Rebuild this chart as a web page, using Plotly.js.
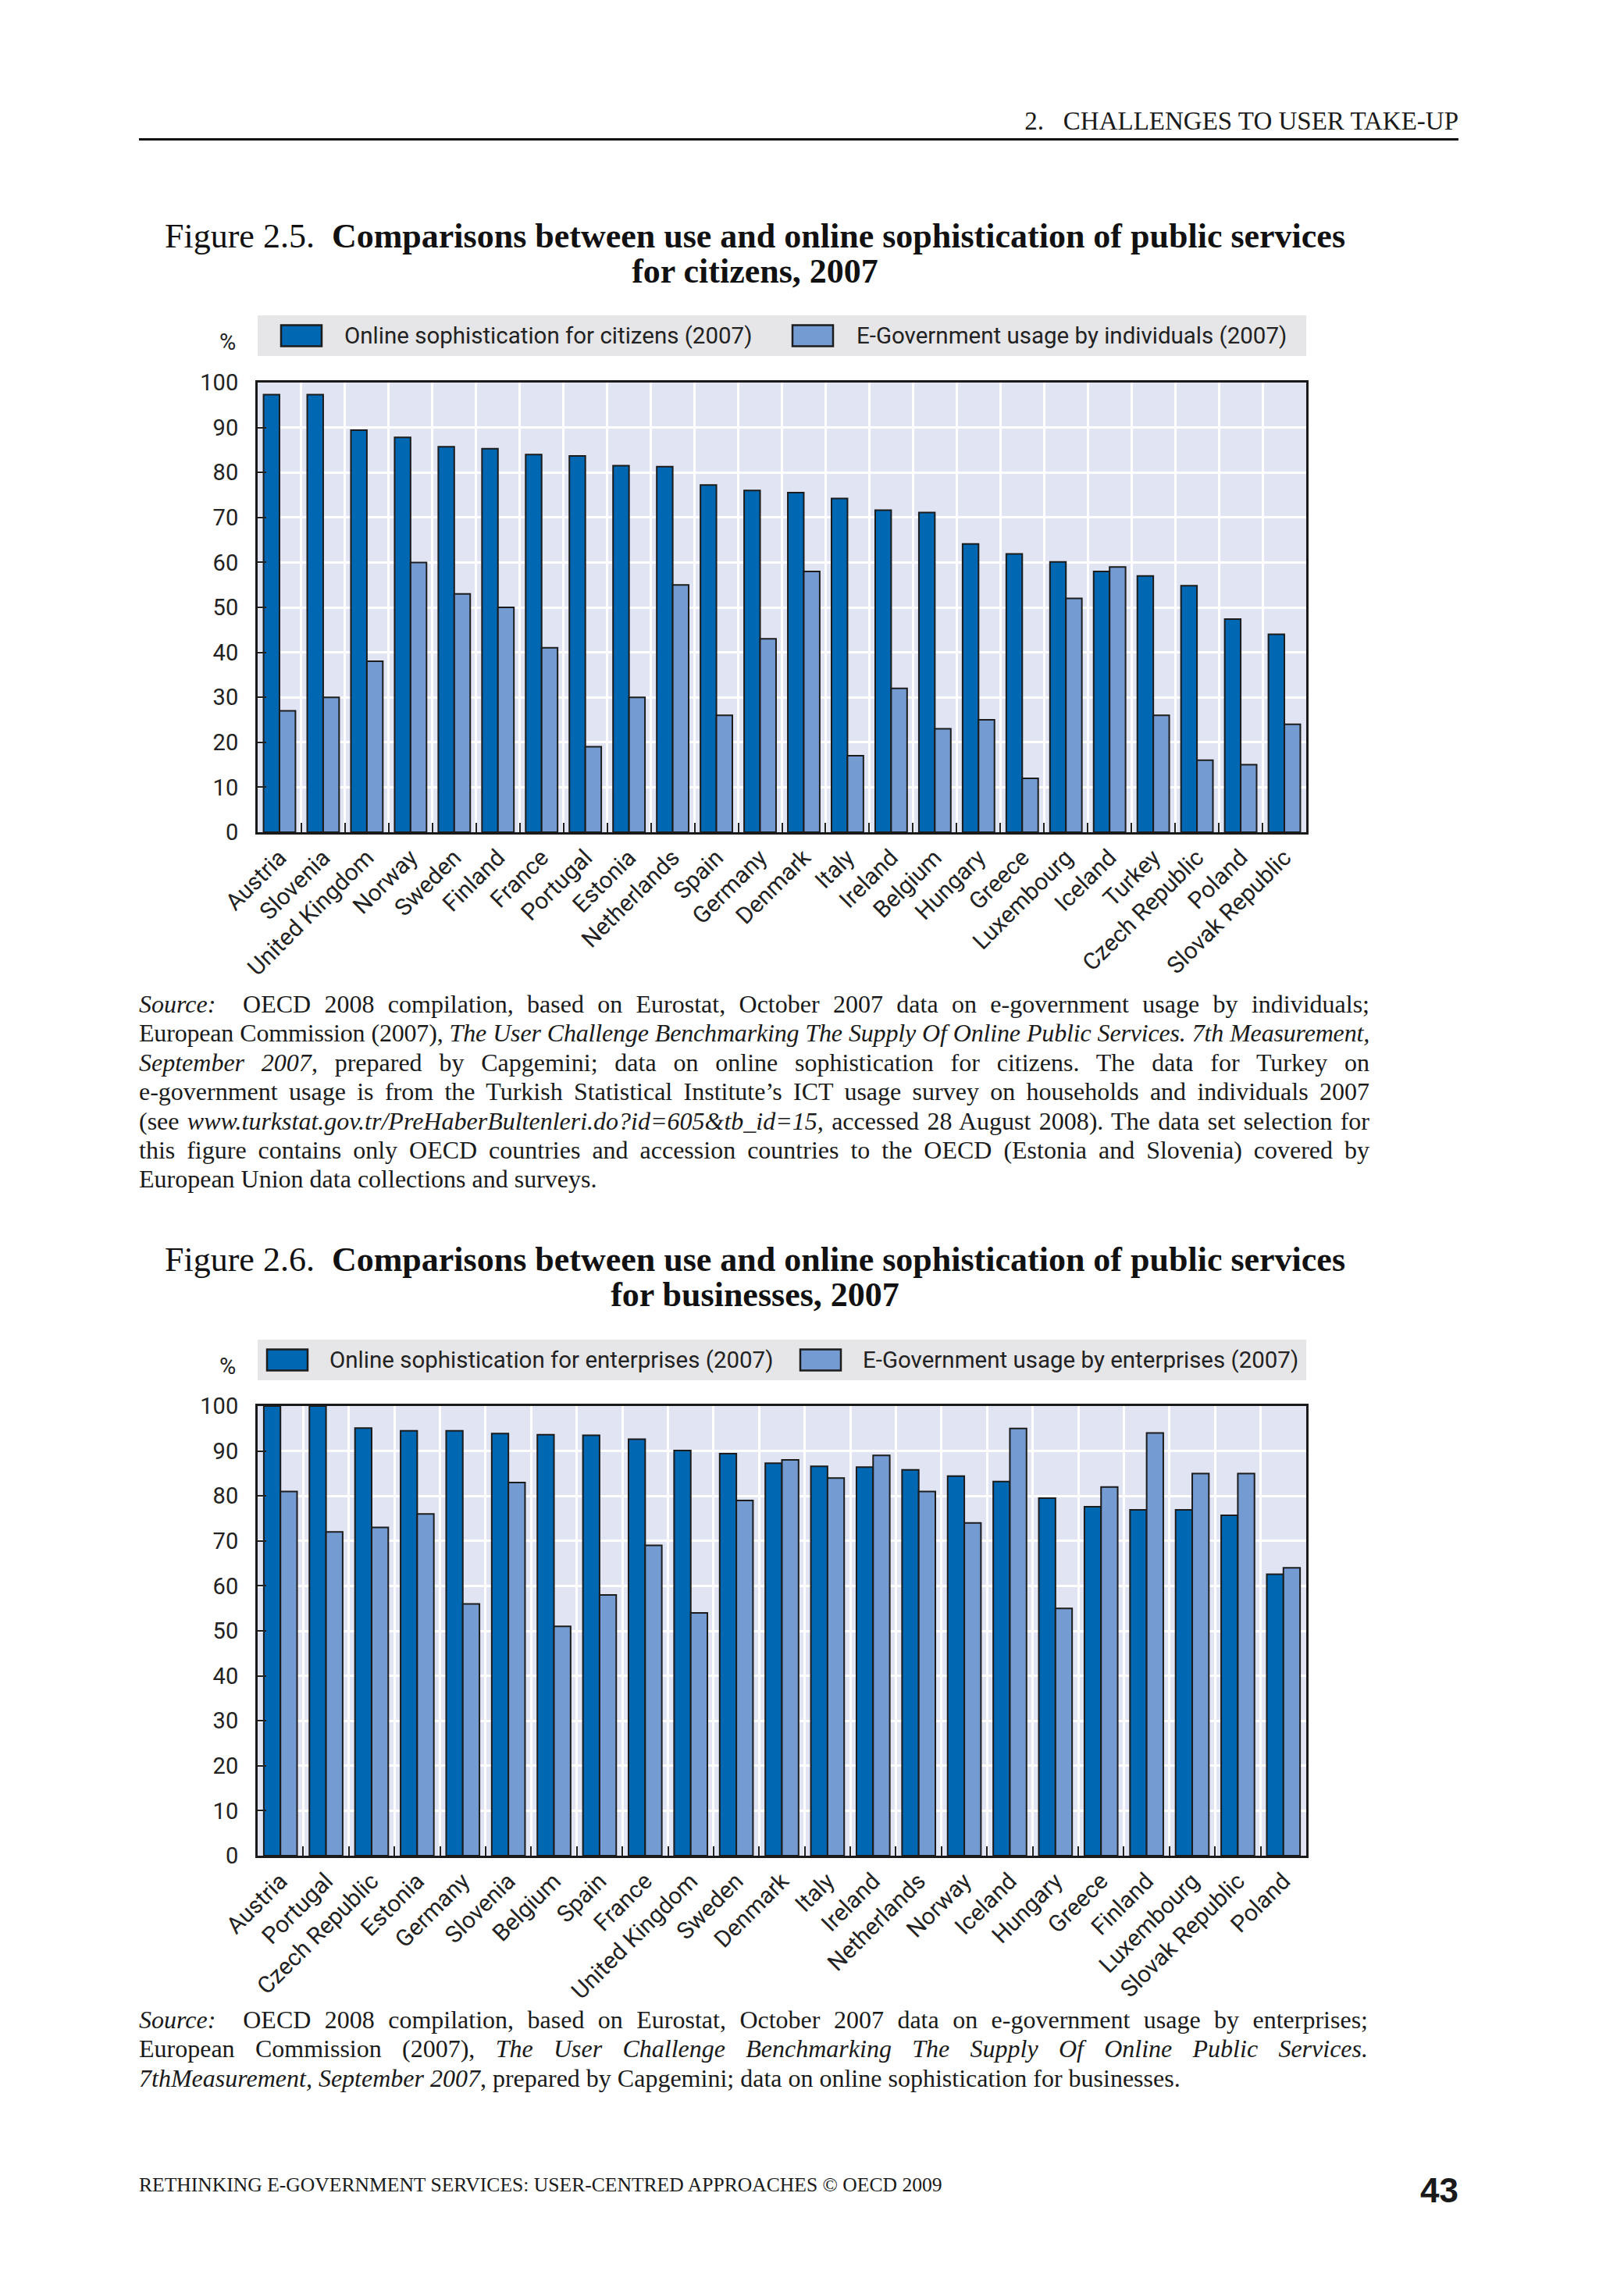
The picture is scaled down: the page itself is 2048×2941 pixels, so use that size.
<!DOCTYPE html>
<html>
<head>
<meta charset="utf-8">
<script src="https://cdn.plot.ly/plotly-3.0.1.min.js"></script>
<style>
  html, body { margin:0; padding:0; background:#fff; }
  #page { position:relative; width:2048px; height:2941px; overflow:hidden; }
  #chart { position:absolute; left:0; top:0; width:2048px; height:2941px; }
  .txt { position:absolute; color:#1a1a1a; font-family:"Liberation Serif","DejaVu Serif",serif; white-space:nowrap; pointer-events:none; z-index:5; }
  .src { position:absolute; left:178px; width:1576px; font-family:"Liberation Serif","DejaVu Serif",serif; font-size:32px; line-height:37.4px; color:#1a1a1a; z-index:5; }
  .src div { text-align:justify; text-align-last:justify; white-space:normal; }
  .src div.last { text-align:left; text-align-last:left; }
  .title { position:absolute; left:178px; width:1578px; text-align:center; font-family:"Liberation Serif","DejaVu Serif",serif; font-size:44px; line-height:45px; color:#111; z-index:5; white-space:nowrap; }
  .title b { font-weight:bold; }
</style>
</head>
<body>
<div id="page">
  <div id="chart"></div>

  <div class="txt" style="right:180px; top:137px; font-size:33px; line-height:37px;">2.&nbsp;&nbsp;&nbsp;CHALLENGES TO USER TAKE-UP</div>
  <div style="position:absolute; left:178px; top:177px; width:1690px; height:3px; background:#111; z-index:5;"></div>

  <div class="title" style="top:280px;">Figure 2.5.&nbsp;&nbsp;<b>Comparisons between use and online sophistication of public services</b><br><b>for citizens, 2007</b></div>

  <div class="src" style="top:1268px;">
    <div><i>Source:</i>&nbsp; OECD 2008 compilation, based on Eurostat, October 2007 data on e-government usage by individuals;</div>
    <div>European Commission (2007), <i>The User Challenge Benchmarking The Supply Of Online Public Services. 7th Measurement,</i></div>
    <div><i>September 2007</i>, prepared by Capgemini; data on online sophistication for citizens. The data for Turkey on</div>
    <div>e-government usage is from the Turkish Statistical Institute’s ICT usage survey on households and individuals 2007</div>
    <div>(see <i>www.turkstat.gov.tr/PreHaberBultenleri.do?id=605&amp;tb_id=15,</i> accessed 28 August 2008). The data set selection for</div>
    <div>this figure contains only OECD countries and accession countries to the OECD (Estonia and Slovenia) covered by</div>
    <div class="last">European Union data collections and surveys.</div>
  </div>

  <div class="title" style="top:1591px;">Figure 2.6.&nbsp;&nbsp;<b>Comparisons between use and online sophistication of public services</b><br><b>for businesses, 2007</b></div>

  <div class="src" style="top:2569px; width:1574px;">
    <div><i>Source:</i>&nbsp; OECD 2008 compilation, based on Eurostat, October 2007 data on e-government usage by enterprises;</div>
    <div>European Commission (2007), <i>The User Challenge Benchmarking The Supply Of Online Public Services.</i></div>
    <div class="last"><i>7thMeasurement, September 2007</i>, prepared by Capgemini; data on online sophistication for businesses.</div>
  </div>

  <div class="txt" style="left:178px; top:2784px; font-size:25.6px; line-height:30px;">RETHINKING E-GOVERNMENT SERVICES: USER-CENTRED APPROACHES © OECD 2009</div>
  <div class="txt" style="right:180px; top:2782px; font-size:44px; line-height:48px; font-weight:bold; font-family:'Liberation Sans','DejaVu Sans',sans-serif;">43</div>
</div>

<script>
// ---------- DATA ----------
const categories1 = ["Austria","Slovenia","United Kingdom","Norway","Sweden","Finland","France","Portugal","Estonia","Netherlands","Spain","Germany","Denmark","Italy","Ireland","Belgium","Hungary","Greece","Luxembourg","Iceland","Turkey","Czech Republic","Poland","Slovak Republic"];
const onlineCitizens = [97.3,97.3,89.4,87.8,85.7,85.3,84.0,83.7,81.5,81.3,77.2,76.0,75.5,74.2,71.6,71.1,64.1,61.9,60.1,58.0,57.0,54.8,47.4,44.0];
const usageIndividuals = [27,30,38,60,53,50,41,19,30,55,26,43,58,17,32,23,25,12,52,59,26,16,15,24];

const categories2 = ["Austria","Portugal","Czech Republic","Estonia","Germany","Slovenia","Belgium","Spain","France","United Kingdom","Sweden","Denmark","Italy","Ireland","Netherlands","Norway","Iceland","Hungary","Greece","Finland","Luxembourg","Slovak Republic","Poland"];
const onlineEnterprises = [100,100,95.1,94.5,94.5,93.9,93.6,93.5,92.6,90.1,89.4,87.3,86.6,86.4,85.8,84.4,83.2,79.5,77.6,76.9,76.9,75.7,62.6];
const usageEnterprises = [81,72,73,76,56,83,51,58,69,54,79,88,84,89,81,74,95,55,82,94,85,85,64];

const legend1 = ["Online sophistication for citizens (2007)","E-Government usage by individuals (2007)"];
const legend2 = ["Online sophistication for enterprises (2007)","E-Government usage by enterprises (2007)"];
const yTicks = [0,10,20,30,40,50,60,70,80,90,100];

// ---------- fit justified source lines (no unwanted wrapping) ----------
document.querySelectorAll(".src div").forEach(d => {
  const box = d.parentElement.clientWidth;
  d.style.whiteSpace = "nowrap";
  d.style.display = "inline-block";
  const w = d.getBoundingClientRect().width;
  const n = d.textContent.length;
  if (w > box - 2) d.style.letterSpacing = ((box - 4 - w) / n).toFixed(3) + "px";
  d.style.display = "block";
  d.style.whiteSpace = "normal";
});

// ---------- STYLE ----------
const W = 2048, H = 2941;
const px = x => x / W;
const py = y => 1 - y / H;
const DARK = "#0067b3", LIGHT = "#759bd3", OUTLINE = "#1c1c1c";
const SANS = "Roboto, 'Liberation Sans', sans-serif";
const TXT = "#222";

function bar(x, y, color, xa, ya) {
  return { type:"bar", x:x, y:y, xaxis:xa, yaxis:ya, marker:{color:color, line:{color:OUTLINE, width:2}}, hoverinfo:"x+y" };
}

const data = [
  bar(categories1, onlineCitizens, DARK, "x", "y"),
  bar(categories1, usageIndividuals, LIGHT, "x", "y"),
  bar(categories2, onlineEnterprises, DARK, "x2", "y2"),
  bar(categories2, usageEnterprises, LIGHT, "x2", "y2")
];

function xAxis(domainPx, anchor) {
  return {
    domain:[px(domainPx[0]), px(domainPx[1])], anchor:anchor, type:"category",
    tickson:"boundaries", ticks:"inside", ticklen:12, tickwidth:2, tickcolor:"#222",
    showgrid:true, gridcolor:"#ffffff", gridwidth:3,
    showline:true, mirror:true, linecolor:"#1a1a1a", linewidth:3,
    tickangle:-45, tickfont:{family:SANS, size:30, color:TXT}, fixedrange:true
  };
}
function yAxis(topPx, botPx, anchor) {
  return {
    domain:[py(botPx), py(topPx)], anchor:anchor, range:[0,100],
    tickvals:yTicks, ticktext:yTicks.map(String),
    ticks:"inside", ticklen:11, tickwidth:2, tickcolor:"#222",
    showgrid:true, gridcolor:"#ffffff", gridwidth:3, zeroline:false,
    showline:true, mirror:true, linecolor:"#1a1a1a", linewidth:3,
    tickfont:{family:SANS, size:29, color:TXT}, ticklabelstandoff:16, fixedrange:true
  };
}

const L = 330, R = 1673;
const shapes = [], annotations = [];
function legendBlock(top, bottom, labels, sym1, sym2, text1, text2) {
  shapes.push({type:"rect", xref:"paper", yref:"paper", x0:px(L), x1:px(R), y0:py(bottom), y1:py(top), fillcolor:"#e6e6e8", line:{width:0}, layer:"below"});
  const mid = (top + bottom) / 2;
  [[sym1, DARK, text1, labels[0]], [sym2, LIGHT, text2, labels[1]]].forEach(([sx, col, tx, lab]) => {
    shapes.push({type:"rect", xref:"paper", yref:"paper", x0:px(sx), x1:px(sx + 52), y0:py(mid + 13.5), y1:py(mid - 13.5), fillcolor:col, line:{color:OUTLINE, width:2.5}});
    annotations.push({xref:"paper", yref:"paper", x:px(tx), y:py(mid), xanchor:"left", yanchor:"middle", text:lab, showarrow:false, font:{family:SANS, size:29.5, color:TXT}});
  });
  annotations.push({xref:"paper", yref:"paper", x:px(291), y:py(mid + 8), xanchor:"center", yanchor:"middle", text:"%", showarrow:false, font:{family:SANS, size:29, color:TXT}});
}
legendBlock(404, 456, legend1, 360, 1015, 439, 1095);
legendBlock(1716, 1768, legend2, 342, 1025, 420, 1103);

const layout = {
  width:W, height:H, margin:{l:0, r:0, t:0, b:0},
  paper_bgcolor:"#ffffff", plot_bgcolor:"#e1e4f3",
  barmode:"group", bargap:0.27, bargroupgap:0, showlegend:false,
  xaxis: xAxis([L, R], "y"),
  yaxis: yAxis(490, 1066, "x"),
  xaxis2: xAxis([L, R], "y2"),
  yaxis2: yAxis(1801, 2377, "x2"),
  shapes:shapes, annotations:annotations
};

Plotly.newPlot("chart", data, layout, {staticPlot:true, displayModeBar:false});
</script>
</body>
</html>
